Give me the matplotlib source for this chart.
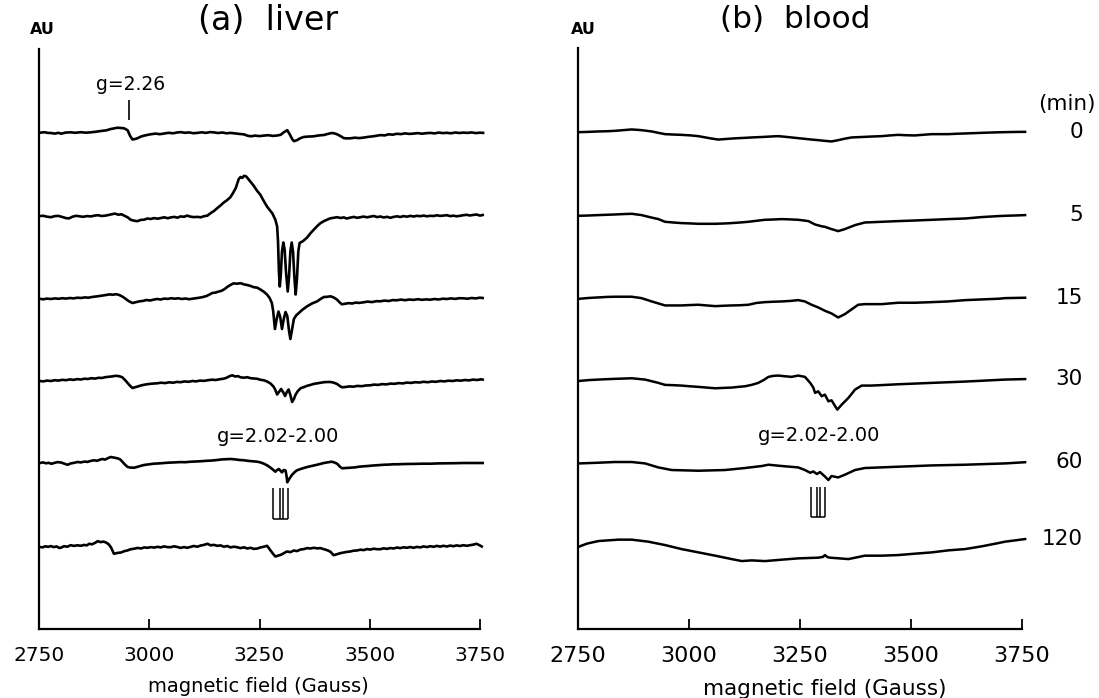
import numpy as np
import matplotlib
matplotlib.use("Agg")
import matplotlib.pyplot as plt
from matplotlib.transforms import blended_transform_factory

plt.rcParams['font.family'] = ['DejaVu Sans']

# ---------------- data ----------------
field_ticks = [2750, 3000, 3250, 3500, 3750]
time_labels = ["0", "5", "15", "30", "60", "120"]
panel_titles = ["(a)  liver", "(b)  blood"]
x_label = "magnetic field (Gauss)"
g_high_label = "g=2.26"
g_high_field = 2953
g_low_label = "g=2.02-2.00"
liver_bracket_fields = [3280, 3296, 3303, 3314]
blood_bracket_fields = [3274, 3289, 3296, 3306]

# (field in Gauss, signal in AU relative to the trace's own baseline)
liver_0 = [(2752, 0.3), (2762, 0.8), (2770, 0.1), (2777, 0.0), (2786, -0.6), (2794, 0.2), (2800, -0.7), (2810, 0.4),
           (2822, 0.7), (2832, 0.2), (2845, 0.8), (2856, 0.3), (2868, 0.7), (2878, 1.2), (2890, 2.0), (2902, 2.6),
           (2913, 4.0), (2920, 4.6), (2928, 5.3), (2936, 5.0), (2943, 4.7), (2951, 2.7), (2957, -3.3), (2962, -6.5),
           (2968, -6.0), (2973, -5.3), (2981, -3.6), (2988, -2.7), (2996, -1.9), (3003, -1.3), (3014, -0.6), (3024, -1.2),
           (3034, -0.5), (3044, 0.2), (3054, -0.3), (3063, 0.5), (3071, 0.9), (3081, 0.2), (3090, 0.6), (3100, -0.2),
           (3109, 0.1), (3119, 0.7), (3128, 0.1), (3138, 0.9), (3147, 0.6), (3156, 0.0), (3166, 0.5), (3175, -0.3),
           (3184, 0.1), (3194, -0.4), (3204, -0.9), (3215, -1.4), (3222, -2.6), (3230, -3.3), (3240, -2.6), (3250, -3.1),
           (3260, -2.6), (3270, -2.2), (3280, -2.9), (3290, -2.5), (3298, -1.8), (3305, 0.7), (3313, 2.8), (3319, -1.7),
           (3324, -6.0), (3328, -8.2), (3335, -7.2), (3342, -5.3), (3350, -4.0), (3360, -3.6), (3373, -3.3), (3385, -2.4),
           (3396, -2.0), (3406, -0.8), (3414, 0.0), (3420, -0.4), (3426, -1.3), (3434, -3.2), (3441, -5.1), (3448, -5.4),
           (3456, -5.3), (3466, -4.7), (3476, -5.1), (3486, -4.6), (3496, -3.9), (3506, -3.4), (3515, -2.8), (3524, -2.1),
           (3534, -2.4), (3543, -1.3), (3552, -1.7), (3561, -0.8), (3571, -1.1), (3580, -0.4), (3590, -0.9), (3599, -0.6),
           (3609, -0.1), (3618, -0.7), (3628, -0.2), (3637, 0.1), (3647, -0.4), (3656, 0.4), (3666, -0.1), (3675, 0.2),
           (3684, -0.3), (3694, 0.5), (3703, 0.0), (3712, 0.4), (3722, 0.1), (3731, 0.6), (3740, -0.1), (3750, 0.3),
           (3757, 0.1)]

liver_5 = [(2752, 0.5), (2760, 0.7), (2768, -0.2), (2777, -0.7), (2786, 0.4), (2794, 0.6), (2803, -0.5), (2811, -1.6),
           (2818, -1.9), (2826, -0.2), (2834, 0.7), (2842, 0.2), (2850, -0.3), (2859, 0.4), (2868, 0.1), (2876, 0.9),
           (2884, 1.3), (2892, 0.5), (2900, 0.8), (2908, 1.6), (2916, 2.5), (2922, 2.9), (2930, 1.8), (2937, 2.2),
           (2944, 0.7), (2951, -0.8), (2958, -3.3), (2966, -4.2), (2973, -4.7), (2981, -3.4), (2988, -3.2), (2996, -2.0),
           (3003, -2.5), (3011, -1.6), (3019, -2.2), (3026, -1.5), (3034, -0.8), (3042, -1.7), (3049, -0.9), (3057, -0.4),
           (3064, -1.2), (3071, 0.1), (3079, -0.3), (3086, 0.9), (3094, -0.2), (3101, -0.6), (3109, -0.4), (3117, -0.8),
           (3124, 0.3), (3132, 0.9), (3139, 3.3), (3147, 5.6), (3154, 8.3), (3162, 11.2), (3169, 14.0), (3177, 16.5),
           (3184, 19.3), (3190, 23.5), (3196, 28.3), (3203, 37.5), (3207, 39.5), (3211, 38.6), (3215, 40.7), (3220, 40.0),
           (3226, 36.7), (3231, 33.8), (3237, 30.7), (3244, 26.0), (3252, 21.7), (3259, 16.0), (3267, 10.0), (3273, 6.5),
           (3279, 3.3), (3286, -3.3), (3290, -10.0), (3292, -25.0), (3294, -55.0), (3296, -70.0), (3298, -60.0),
           (3301, -35.0), (3304, -26.0), (3307, -33.0), (3310, -55.0), (3314, -75.0), (3317, -60.0), (3320, -35.0),
           (3323, -26.0), (3326, -35.0), (3329, -60.0), (3332, -78.0), (3335, -62.0), (3338, -35.0), (3341, -26.5),
           (3349, -24.5), (3358, -21.0), (3366, -16.5), (3373, -13.3), (3381, -9.5), (3388, -6.7), (3396, -4.6),
           (3403, -3.3), (3410, -1.9), (3418, -1.3), (3426, -0.7), (3434, -1.5), (3441, -0.9), (3448, -2.0), (3456, -1.1),
           (3464, -0.4), (3471, -1.3), (3479, -0.7), (3486, -0.1), (3494, -0.8), (3501, -0.2), (3509, 0.5), (3517, -0.6),
           (3524, 0.0), (3532, -1.0), (3539, -0.3), (3547, -1.3), (3554, -0.4), (3562, 0.2), (3569, -0.5), (3577, 0.4),
           (3584, -0.2), (3592, 0.6), (3600, 0.0), (3607, 0.7), (3615, 0.3), (3622, 0.9), (3630, 0.2), (3637, 0.7),
           (3645, 0.5), (3652, 1.2), (3660, 0.6), (3667, 0.9), (3675, 1.3), (3682, 0.4), (3690, 0.8), (3697, 0.2),
           (3705, 0.7), (3712, 1.3), (3720, 1.7), (3727, 1.0), (3735, 1.6), (3742, 2.0), (3750, 0.9), (3756, 1.5)]

liver_15 = [(2752, 0.2), (2760, -0.3), (2768, 0.4), (2777, 0.0), (2786, 0.6), (2794, 0.2), (2803, 0.8), (2811, 0.4),
            (2820, 1.0), (2828, 0.6), (2837, 1.3), (2845, 1.0), (2854, 1.6), (2862, 1.3), (2870, 2.0), (2878, 2.4),
            (2886, 2.9), (2894, 3.4), (2902, 4.0), (2910, 4.6), (2917, 4.3), (2925, 4.8), (2932, 4.0), (2940, 2.2),
            (2947, 0.0), (2954, -2.3), (2962, -4.0), (2970, -3.2), (2978, -2.3), (2986, -1.9), (2994, -1.0), (3002, -1.5),
            (3010, -0.6), (3018, 0.0), (3026, -0.5), (3034, 0.4), (3042, 0.1), (3050, 0.8), (3058, 0.3), (3066, 0.7),
            (3074, 0.0), (3082, 0.5), (3090, -0.2), (3098, 0.3), (3106, 0.9), (3114, 1.3), (3122, 2.0), (3130, 3.0),
            (3137, 4.6), (3143, 6.0), (3150, 6.4), (3157, 7.4), (3164, 8.2), (3171, 10.0), (3178, 12.4), (3184, 14.0),
            (3191, 15.6), (3199, 15.3), (3207, 15.8), (3215, 14.6), (3222, 14.0), (3230, 13.0), (3237, 11.8),
            (3245, 11.3), (3252, 9.5), (3260, 7.2), (3267, 4.5), (3273, 1.0), (3278, -4.0), (3281, -12.0),
            (3285, -30.0), (3289, -20.0), (3293, -12.5), (3297, -18.0), (3301, -30.0), (3305, -20.0), (3309, -13.0),
            (3313, -17.0), (3317, -32.0), (3320, -40.0), (3324, -30.0), (3328, -20.0), (3333, -16.5), (3339, -14.0),
            (3348, -10.5), (3358, -7.3), (3369, -4.5), (3381, -2.3), (3389, 0.2), (3396, 2.0), (3404, 2.2), (3411, 2.7),
            (3418, 1.6), (3426, -0.7), (3432, -3.5), (3437, -5.3), (3445, -4.7), (3452, -4.1), (3460, -4.5),
            (3468, -3.6), (3476, -3.9), (3486, -3.3), (3495, -2.6), (3505, -3.1), (3515, -2.2), (3524, -2.3),
            (3533, -1.6), (3543, -2.0), (3552, -1.1), (3561, -1.3), (3571, -0.6), (3580, -1.2), (3590, -0.5),
            (3599, -0.9), (3609, -0.2), (3618, -0.8), (3628, -0.4), (3637, -0.7), (3647, 0.0), (3656, -0.5), (3666, 0.3),
            (3675, 0.0), (3684, 0.6), (3694, 0.1), (3703, 0.8), (3712, 0.7), (3722, 0.3), (3731, 1.0), (3740, 0.6),
            (3750, 1.3), (3756, 1.0)]

liver_30 = [(2752, -1.0), (2760, -1.4), (2768, -0.6), (2777, -1.0), (2786, -0.2), (2794, -0.6), (2803, 0.2), (2811, -0.2),
            (2820, 0.6), (2828, 0.1), (2837, 0.9), (2845, 0.5), (2853, 1.3), (2861, 1.0), (2869, 1.8), (2877, 1.4),
            (2885, 2.2), (2893, 2.0), (2900, 2.8), (2908, 3.2), (2916, 3.6), (2924, 4.2), (2932, 3.8), (2939, 2.7),
            (2945, 0.0), (2951, -3.0), (2957, -6.0), (2962, -8.0), (2970, -7.0), (2981, -5.5), (2990, -4.6), (2999, -4.0),
            (3008, -3.6), (3018, -3.3), (3027, -2.7), (3036, -3.1), (3045, -2.3), (3054, -2.7), (3063, -1.9),
            (3071, -2.2), (3080, -1.4), (3089, -1.8), (3098, -1.0), (3106, -1.4), (3115, -0.6), (3124, -0.9),
            (3133, -0.2), (3142, 0.3), (3151, 0.0), (3160, 0.8), (3169, 1.3), (3176, 2.4), (3182, 3.8), (3188, 4.7),
            (3195, 3.5), (3201, 3.9), (3207, 2.7), (3215, 2.3), (3222, 2.8), (3230, 1.8), (3237, 1.5), (3245, 1.2),
            (3252, 0.2), (3260, -0.3), (3267, -1.5), (3275, -3.5), (3282, -6.7), (3286, -10.0), (3290, -14.5),
            (3294, -12.0), (3299, -9.0), (3304, -12.5), (3308, -16.0), (3312, -12.0), (3316, -9.5), (3320, -15.0),
            (3324, -22.0), (3328, -19.0), (3332, -14.5), (3337, -11.0), (3343, -8.3), (3350, -7.2), (3358, -5.8),
            (3365, -5.0), (3373, -3.9), (3381, -3.3), (3388, -2.7), (3396, -2.2), (3404, -2.0), (3411, -2.0),
            (3418, -2.6), (3426, -4.0), (3432, -6.0), (3437, -7.3), (3445, -7.0), (3454, -6.4), (3463, -6.7),
            (3472, -5.9), (3482, -6.2), (3491, -5.5), (3501, -5.3), (3510, -4.6), (3519, -4.9), (3528, -4.1),
            (3538, -4.4), (3547, -3.6), (3556, -3.8), (3566, -3.1), (3575, -3.4), (3584, -2.6), (3594, -2.9),
            (3603, -2.2), (3613, -2.5), (3622, -1.8), (3632, -2.2), (3641, -1.5), (3650, -1.8), (3660, -1.0),
            (3669, -1.4), (3678, -0.7), (3688, -1.0), (3697, -0.3), (3706, -0.7), (3716, 0.0), (3725, -0.4),
            (3734, 0.4), (3744, 0.0), (3752, 0.7), (3756, 0.4)]

liver_60 = [(2752, 0.0), (2759, 0.6), (2766, -0.3), (2772, 0.2), (2778, -0.8), (2785, 0.1), (2792, 0.9), (2800, 0.5),
            (2807, -0.6), (2815, -1.8), (2822, -0.4), (2830, 0.2), (2837, 1.0), (2845, 0.6), (2853, 1.4), (2860, 1.1),
            (2868, 2.2), (2875, 2.7), (2882, 2.2), (2888, 3.3), (2894, 4.0), (2900, 3.4), (2907, 5.0), (2913, 6.0),
            (2920, 5.4), (2928, 4.7), (2934, 3.6), (2939, 1.3), (2945, -1.6), (2951, -4.0), (2958, -4.6), (2966, -4.7),
            (2975, -3.6), (2988, -2.0), (2998, -1.4), (3010, -0.7), (3022, -0.4), (3034, 0.0), (3046, 0.4), (3058, 0.6),
            (3070, 0.9), (3082, 0.8), (3094, 1.3), (3106, 1.5), (3118, 1.8), (3130, 2.2), (3140, 2.4), (3147, 2.7),
            (3156, 3.1), (3165, 3.6), (3175, 3.8), (3184, 4.0), (3195, 3.6), (3205, 3.0), (3215, 2.7), (3225, 2.1),
            (3235, 1.7), (3245, 1.3), (3252, 0.6), (3260, -0.7), (3268, -2.5), (3275, -4.7), (3281, -6.8), (3286, -8.7),
            (3290, -7.0), (3294, -6.0), (3298, -8.0), (3301, -9.3), (3305, -7.0), (3309, -7.5), (3311, -12.0),
            (3313, -19.3), (3318, -15.5), (3324, -11.7), (3330, -9.0), (3335, -7.3), (3346, -5.6), (3358, -4.0),
            (3370, -2.8), (3381, -1.7), (3389, -0.8), (3396, 0.0), (3405, 0.7), (3414, 1.3), (3420, 0.5), (3426, -0.7),
            (3432, -3.5), (3437, -5.3), (3446, -5.0), (3456, -4.7), (3466, -4.4), (3476, -3.7), (3486, -3.3),
            (3496, -3.0), (3505, -2.6), (3515, -2.3), (3524, -2.0), (3534, -1.7), (3543, -1.6), (3552, -1.3),
            (3561, -1.3), (3580, -1.0), (3599, -0.9), (3618, -0.7), (3637, -0.7), (3656, -0.4), (3675, -0.3),
            (3694, -0.2), (3712, 0.0), (3731, 0.0), (3756, 0.0)]

liver_120 = [(2752, -0.5), (2758, -0.9), (2764, 0.2), (2771, -0.3), (2777, 0.4), (2783, -0.6), (2790, 0.1), (2796, -1.5),
             (2800, -1.1), (2807, 0.3), (2814, -0.2), (2822, 1.3), (2829, 0.6), (2837, 1.2), (2845, 0.7), (2852, 1.6),
             (2858, 1.1), (2864, 2.7), (2870, 2.2), (2877, 3.6), (2883, 5.3), (2890, 4.4), (2896, 4.9), (2902, 4.0),
             (2908, 2.2), (2913, -0.7), (2917, -4.5), (2920, -7.3), (2928, -6.4), (2936, -6.0), (2944, -4.6),
             (2951, -3.9), (2958, -2.7), (2966, -2.2), (2974, -1.4), (2981, -2.0), (2989, -0.9), (2996, -1.3),
             (3004, -0.6), (3011, -1.1), (3019, -0.3), (3026, -0.9), (3034, 0.1), (3041, -0.6), (3049, -0.7),
             (3056, 0.2), (3064, -0.5), (3071, -1.4), (3079, -0.6), (3086, -1.3), (3094, -0.4), (3101, 0.5),
             (3109, -0.2), (3117, 1.0), (3124, 1.6), (3132, 2.7), (3139, 1.2), (3147, 1.6), (3154, 0.7), (3162, 1.1),
             (3169, -0.2), (3177, 0.5), (3184, -0.9), (3192, -0.2), (3199, -0.7), (3207, -1.6), (3215, -0.8),
             (3222, -2.0), (3230, -1.3), (3237, -2.4), (3245, -2.0), (3252, -1.0), (3260, -0.2), (3267, 0.7),
             (3271, -1.5), (3275, -4.0), (3281, -7.5), (3286, -10.0), (3293, -9.0), (3299, -8.2), (3305, -6.7),
             (3312, -5.0), (3320, -5.6), (3328, -4.0), (3335, -4.6), (3343, -3.0), (3350, -2.7), (3358, -1.6),
             (3365, -2.0), (3373, -1.3), (3381, -1.9), (3388, -1.6), (3396, -2.7), (3404, -3.8), (3411, -5.3),
             (3418, -8.7), (3426, -7.6), (3434, -6.6), (3441, -6.0), (3448, -5.4), (3456, -5.0), (3463, -4.2),
             (3471, -4.0), (3479, -3.2), (3486, -3.6), (3494, -2.6), (3501, -3.1), (3509, -2.2), (3516, -2.7),
             (3524, -2.7), (3532, -1.8), (3539, -2.4), (3547, -1.5), (3554, -2.0), (3562, -1.0), (3569, -1.6),
             (3577, -0.8), (3584, -1.3), (3592, -0.5), (3599, -1.3), (3607, -0.4), (3615, -0.9), (3622, 0.1),
             (3630, -0.6), (3637, 0.3), (3645, -0.3), (3652, 0.6), (3660, -0.1), (3667, 0.7), (3675, 0.0), (3682, 0.9),
             (3690, 0.3), (3697, 1.1), (3705, 0.5), (3712, 1.3), (3720, 0.7), (3727, 1.3), (3735, 1.9), (3742, 2.7),
             (3748, 1.5), (3754, 0.0)]

blood_0 = [(2754, 0.0), (2775, 0.3), (2796, 0.7), (2815, 0.9), (2833, 1.3), (2852, 2.0), (2871, 2.7), (2893, 2.0),
           (2916, 0.7), (2930, -0.6), (2946, -2.0), (2965, -2.4), (2983, -2.7), (3002, -3.2), (3021, -4.0), (3036, -5.2),
           (3051, -6.4), (3066, -7.4), (3081, -6.9), (3096, -6.4), (3111, -6.0), (3126, -5.7), (3141, -5.3),
           (3156, -5.0), (3171, -4.7), (3186, -4.3), (3201, -4.0), (3216, -4.6), (3231, -5.3), (3246, -6.0),
           (3261, -6.7), (3276, -7.4), (3291, -8.0), (3306, -8.7), (3321, -9.3), (3336, -8.0), (3351, -6.5),
           (3366, -5.3), (3381, -5.0), (3396, -4.7), (3415, -4.3), (3434, -4.0), (3452, -3.3), (3471, -2.7),
           (3490, -3.1), (3509, -3.3), (3528, -2.6), (3547, -2.0), (3566, -2.0), (3584, -2.0), (3603, -1.6),
           (3622, -1.3), (3641, -1.0), (3659, -0.7), (3685, -0.3), (3712, 0.0), (3735, 0.2), (3757, 0.3)]

blood_5 = [(2754, 0.0), (2775, 0.3), (2796, 0.7), (2815, 1.0), (2833, 1.3), (2852, 1.7), (2871, 2.0), (2893, 0.7),
           (2913, -1.5), (2931, -3.3), (2946, -6.0), (2965, -6.7), (2983, -7.3), (3002, -7.6), (3021, -8.0),
           (3040, -8.0), (3059, -8.0), (3078, -7.7), (3096, -7.3), (3115, -6.7), (3134, -6.0), (3152, -5.0),
           (3171, -4.0), (3190, -3.7), (3209, -3.3), (3228, -3.6), (3246, -4.0), (3269, -5.3), (3284, -8.7),
           (3299, -10.5), (3306, -11.0), (3321, -13.3), (3336, -15.3), (3351, -13.3), (3374, -9.3), (3396, -6.7),
           (3434, -6.0), (3471, -5.3), (3509, -4.7), (3547, -4.0), (3584, -3.3), (3622, -2.7), (3659, -1.3),
           (3697, -0.3), (3712, 0.0), (3735, 0.3), (3757, 0.7)]

blood_15 = [(2754, -0.3), (2775, 0.5), (2796, 1.0), (2815, 1.5), (2833, 1.7), (2852, 1.7), (2871, 1.7), (2893, 0.3),
            (2916, -3.0), (2931, -5.0), (2946, -7.0), (2965, -7.0), (2983, -7.0), (3002, -6.6), (3021, -6.3),
            (3040, -7.0), (3059, -7.7), (3078, -7.3), (3096, -7.0), (3115, -6.8), (3134, -6.3), (3152, -4.5),
            (3171, -3.7), (3190, -3.3), (3209, -3.0), (3228, -2.5), (3246, -1.7), (3261, -3.0), (3276, -6.3),
            (3291, -9.0), (3306, -12.3), (3321, -15.0), (3336, -19.0), (3351, -15.7), (3366, -11.0), (3381, -6.3),
            (3396, -5.7), (3434, -5.7), (3471, -4.3), (3509, -4.3), (3547, -3.7), (3584, -3.0), (3622, -1.7),
            (3659, -1.0), (3697, -0.3), (3712, 0.3), (3735, 0.5), (3757, 0.7)]

blood_30 = [(2754, -1.3), (2775, -0.5), (2796, 0.0), (2815, 0.4), (2833, 0.7), (2852, 1.0), (2871, 1.3), (2901, 0.0),
            (2931, -3.3), (2946, -5.3), (2965, -5.6), (2983, -6.0), (3002, -6.7), (3021, -7.3), (3040, -8.0),
            (3059, -8.7), (3078, -8.3), (3096, -8.0), (3111, -7.3), (3126, -6.7), (3141, -5.3), (3156, -3.3),
            (3168, -0.5), (3179, 2.7), (3190, 3.7), (3201, 4.0), (3216, 3.3), (3231, 2.7), (3246, 4.0), (3261, 2.7),
            (3273, -3.3), (3280, -8.0), (3284, -13.3), (3291, -11.7), (3299, -16.7), (3306, -15.0), (3314, -21.7),
            (3321, -20.7), (3334, -30.0), (3344, -25.0), (3359, -18.3), (3374, -10.0), (3389, -6.0), (3411, -6.0),
            (3471, -4.7), (3547, -3.3), (3622, -2.0), (3712, 0.0), (3757, 0.5)]

blood_60 = [(2754, -0.7), (2796, 0.0), (2833, 0.7), (2871, 0.7), (2901, -0.7), (2931, -4.7), (2961, -7.3), (3021, -8.0),
            (3081, -7.3), (3126, -5.3), (3164, -3.3), (3179, -2.0), (3209, -3.3), (3246, -4.7), (3261, -7.3),
            (3273, -10.0), (3280, -8.7), (3288, -11.3), (3295, -9.3), (3305, -13.3), (3314, -17.3), (3321, -13.3),
            (3336, -14.7), (3351, -12.0), (3374, -7.3), (3396, -5.3), (3471, -4.0), (3547, -2.7), (3622, -2.0),
            (3712, -0.7), (3757, 0.5)]

blood_120 = [(2754, 0.0), (2770, 2.7), (2796, 5.3), (2841, 6.7), (2871, 6.7), (2908, 4.7), (2946, 1.3), (2983, -2.7),
             (3021, -6.0), (3059, -9.3), (3096, -12.7), (3119, -14.7), (3141, -14.0), (3171, -14.7), (3209, -13.3),
             (3246, -12.0), (3291, -11.3), (3302, -10.5), (3306, -8.7), (3312, -10.8), (3318, -11.3), (3359, -12.7),
             (3381, -10.7), (3396, -9.3), (3434, -9.3), (3471, -8.7), (3509, -7.3), (3547, -6.0), (3584, -4.0),
             (3622, -2.7), (3659, 0.0), (3697, 3.3), (3712, 4.7), (3735, 6.0), (3757, 7.3)]

liver_traces = [liver_0, liver_5, liver_15, liver_30, liver_60, liver_120]
blood_traces = [blood_0, blood_5, blood_15, blood_30, blood_60, blood_120]

# ---------------- layout ----------------
W, H = 1099, 698
AXIS_BOTTOM_PX = 629
trace_baselines = [496, 412.5, 330, 249, 166, 82.5]

fig = plt.figure(figsize=(W / 100, H / 100), dpi=100)


def px_axes(x0, x1, y_top, y_bot):
    return fig.add_axes([x0 / W, 1 - y_bot / H, (x1 - x0) / W, (y_bot - y_top) / H])


def ftext(x, y, s, **kw):
    fig.text(x / W, 1 - y / H, s, **kw)


def px2data(y_px):
    return AXIS_BOTTOM_PX - y_px


ax_a = px_axes(39, 480, 49, AXIS_BOTTOM_PX)
ax_b = px_axes(578, 1022, 48, AXIS_BOTTOM_PX)

for ax, tick_fs in ((ax_a, 14.5), (ax_b, 16)):
    ax.set_xlim(2750, 3750)
    ax.set_ylim(0, 580)
    ax.patch.set_alpha(0)
    for side in ("top", "right"):
        ax.spines[side].set_visible(False)
    for side in ("left", "bottom"):
        ax.spines[side].set_linewidth(1.6)
    ax.set_yticks([])
    ax.set_xticks(field_ticks)
    ax.set_xticklabels([str(t) for t in field_ticks], fontsize=tick_fs)
    ax.tick_params(axis="x", direction="in", length=7.5, width=1.3, pad=12)

for trace, base in zip(liver_traces, trace_baselines):
    f, s = np.array(trace).T
    ax_a.plot(f, base + s, color="black", lw=1.9, clip_on=False, solid_joinstyle="round")

for trace, base in zip(blood_traces, trace_baselines):
    f, s = np.array(trace).T
    ax_b.plot(f, base + s, color="black", lw=1.8, clip_on=False, solid_joinstyle="round")

# annotations panel a
ax_a.vlines(g_high_field, px2data(120), px2data(100), color="black", lw=1.2)
ax_a.text(g_high_field + 5, px2data(84), g_high_label, ha="center", va="center", fontsize=13.5)
ax_a.text(3292, px2data(436), g_low_label, ha="center", va="center", fontsize=14)
ax_a.vlines(liver_bracket_fields, px2data(519), px2data(488), color="black", lw=1.1)
ax_a.hlines(px2data(519), liver_bracket_fields[0], liver_bracket_fields[-1], color="black", lw=1.1)

# annotations panel b
ax_b.text(3293, px2data(436), g_low_label, ha="center", va="center", fontsize=14)
ax_b.vlines(blood_bracket_fields, px2data(517), px2data(487), color="black", lw=1.1)
ax_b.hlines(px2data(517), blood_bracket_fields[0], blood_bracket_fields[-1], color="black", lw=1.1)

# time labels on right
tr = blended_transform_factory(fig.transFigure, ax_b.transData)
for lab, trace, base in zip(time_labels, blood_traces, trace_baselines):
    ax_b.text(1083 / W, base + trace[-1][1], lab, transform=tr, ha="right", va="center", fontsize=15.5)
ftext(1067, 104, "(min)", ha="center", va="center", fontsize=15.5)

# titles and axis labels
ftext(42, 29, "AU", ha="center", va="center", fontsize=11.5, fontweight="bold")
ftext(268, 20, panel_titles[0], ha="center", va="center", fontsize=24)
ftext(583, 29, "AU", ha="center", va="center", fontsize=11.5, fontweight="bold")
ftext(795, 20, panel_titles[1], ha="center", va="center", fontsize=22.5)
ftext(258, 687, x_label, ha="center", va="center", fontsize=14)
ftext(825, 689, x_label, ha="center", va="center", fontsize=15.5)

fig.savefig("out.png", dpi=100)
